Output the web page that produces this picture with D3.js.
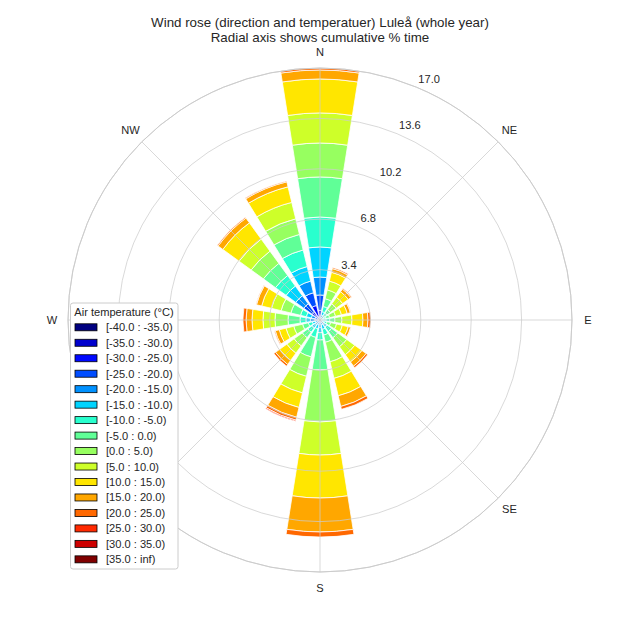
<!DOCTYPE html>
<html><head><meta charset="utf-8">
<script src="https://cdn.jsdelivr.net/npm/d3@7"></script>
<style>body{margin:0;background:#fff;} svg{display:block;font-family:"Liberation Sans",Arial,sans-serif;}</style>
</head><body><svg id="c" width="640" height="640"></svg>
<script>
const directions = ["N","NNE","NE","ENE","E","ESE","SE","SSE","S","SSW","SW","WSW","W","WNW","NW","NNW"];
// SW label is hidden behind the legend in the reference
const angleLabels = ["N","NE","E","SE","S","","W","NW"];
const binLabels = ["[-40.0 : -35.0)","[-35.0 : -30.0)","[-30.0 : -25.0)","[-25.0 : -20.0)","[-20.0 : -15.0)","[-15.0 : -10.0)","[-10.0 : -5.0)","[-5.0 : 0.0)","[0.0 : 5.0)","[5.0 : 10.0)","[10.0 : 15.0)","[15.0 : 20.0)","[20.0 : 25.0)","[25.0 : 30.0)","[30.0 : 35.0)","[35.0 : inf)"];
const radialTicks = [3.4, 6.8, 10.2, 13.6, 17.0];
const rMax = 17.0;
const titleLines = ["Wind rose (direction and temperatuer) Luleå (whole year)", "Radial axis shows cumulative % time"];
const legendTitle = "Air temperature (°C)";

// % of time in each temperature bin, one array per wind direction
const fN   = [0.05,0.15,0.45,1.04,1.21,2.03,2.02,2.70,2.29,2.03,2.29,0.61,0.13,0,0,0];
const fNNE = [0,0.02,0.05,0.10,0.17,0.24,0.36,0.54,0.61,0.61,0.61,0.26,0.08,0,0,0];
const fNE  = [0,0.01,0.03,0.06,0.10,0.15,0.22,0.30,0.48,0.54,0.47,0.22,0.07,0,0,0];
const fENE = [0,0.01,0.03,0.05,0.08,0.10,0.15,0.25,0.41,0.41,0.40,0.22,0.04,0,0,0];
const fE   = [0,0.01,0.04,0.08,0.12,0.16,0.25,0.35,0.47,0.68,0.74,0.34,0.20,0,0,0];
const fESE = [0,0.01,0.03,0.05,0.08,0.12,0.20,0.25,0.41,0.40,0.41,0.17,0.03,0,0,0];
const fSE  = [0,0.02,0.05,0.10,0.16,0.25,0.38,0.52,0.75,0.67,0.60,0.35,0.13,0,0,0];
const fSSE = [0,0.02,0.05,0.10,0.18,0.30,0.40,0.50,1.35,1.15,1.21,0.74,0.20,0,0,0];
const fS   = [0,0.02,0.08,0.15,0.25,0.35,0.50,2.02,3.51,2.23,2.90,2.29,0.34,0,0,0];
const fSSW = [0,0.01,0.05,0.10,0.15,0.30,0.60,1.35,1.35,1.15,1.01,0.68,0.20,0.07,0,0];
const fSW  = [0,0.02,0.06,0.12,0.20,0.26,0.36,0.46,0.68,0.61,0.60,0.34,0.14,0,0,0];
const fWSW = [0,0.02,0.06,0.10,0.15,0.20,0.28,0.40,0.61,0.54,0.47,0.28,0.06,0,0,0];
const fW   = [0.01,0.04,0.10,0.20,0.30,0.30,0.40,0.81,0.88,0.81,0.74,0.40,0.21,0,0,0];
const fWNW = [0.02,0.05,0.10,0.18,0.25,0.35,0.40,0.67,0.68,0.67,0.68,0.36,0.04,0,0,0];
const fNW  = [0.03,0.12,0.50,0.70,0.67,0.81,0.88,1.01,1.02,1.01,1.35,0.40,0.07,0,0,0];
const fNNW = [0.05,0.20,0.76,0.88,0.81,1.01,1.15,1.08,1.08,1.14,1.08,0.35,0.06,0,0,0];
const table = [fN,fNNE,fNE,fENE,fE,fESE,fSE,fSSE,fS,fSSW,fSW,fWSW,fW,fWNW,fNW,fNNW];

function jet(x){
  const seg = pts => { for(let i=0;i<pts.length-1;i++){ const [x0,y0]=pts[i],[x1,y1]=pts[i+1]; if(x>=x0&&x<=x1) return y0+(y1-y0)*(x-x0)/(x1-x0);} return pts[pts.length-1][1]; };
  const r = seg([[0,0],[0.35,0],[0.66,1],[0.89,1],[1,0.5]]);
  const g = seg([[0,0],[0.125,0],[0.375,1],[0.64,1],[0.91,0],[1,0]]);
  const b = seg([[0,0.5],[0.11,1],[0.34,1],[0.65,0],[1,0]]);
  return d3.rgb(Math.round(r*255),Math.round(g*255),Math.round(b*255)).formatHex();
}
const colors = binLabels.map((d,i)=>jet(i/(binLabels.length-1)));

const svg = d3.select("#c");
const cx = 320, cy = 320, R = 252;
const r = d3.scaleLinear().domain([0, rMax]).range([0, R]);
const ang = d3.scaleLinear().domain([0, directions.length]).range([0, 2*Math.PI]);
const half = (2*Math.PI/directions.length)*0.8/2;
const g = svg.append("g").attr("transform",`translate(${cx},${cy})`);
const textCol = "#262626", gridCol = "#cccccc";

// title
svg.append("text").attr("x",320).attr("y",27).attr("text-anchor","middle").attr("font-size","13.33px").attr("fill",textCol).text(titleLines[0]);
svg.append("text").attr("x",320).attr("y",42).attr("text-anchor","middle").attr("font-size","13.33px").attr("fill",textCol).text(titleLines[1]);

// bars
const arc = d3.arc();
table.forEach((vals,di)=>{
  let cum = 0;
  const a = ang(di);
  vals.forEach((v,bi)=>{
    if(v<=0) return;
    g.append("path").attr("d", arc({innerRadius:r(cum), outerRadius:r(cum+v), startAngle:a-half, endAngle:a+half}))
     .attr("fill", colors[bi]).attr("stroke","#fff").attr("stroke-width",0.8);
    cum += v;
  });
});

// grid on top
const grid = g.append("g").attr("stroke",gridCol).attr("fill","none").attr("stroke-width",1).attr("stroke-opacity",0.75);
radialTicks.forEach(t=> grid.append("circle").attr("r", r(t)));
angleLabels.forEach((l,i)=>{
  const a = i*Math.PI/4;
  grid.append("line").attr("x1",0).attr("y1",0).attr("x2",R*Math.sin(a)).attr("y2",-R*Math.cos(a));
});
g.append("circle").attr("r",R).attr("fill","none").attr("stroke",gridCol).attr("stroke-width",1);

// angle labels
angleLabels.forEach((l,i)=>{
  if(!l) return;
  const a = i*Math.PI/4, rl = 268;
  g.append("text").attr("x",rl*Math.sin(a)).attr("y",-rl*Math.cos(a)).attr("dy","0.35em").attr("text-anchor","middle")
   .attr("font-size","11.1px").attr("fill",textCol).text(l);
});
// radial tick labels
const ta = 22.5*Math.PI/180;
radialTicks.forEach(t=>{
  const rr = r(t)+5;
  g.append("text").attr("x",rr*Math.sin(ta)).attr("y",-rr*Math.cos(ta)).attr("font-size","11.1px").attr("fill",textCol).text(t.toFixed(1));
});

// legend
const lg = svg.append("g");
lg.append("rect").attr("x",70.5).attr("y",303).attr("width",107.5).attr("height",266).attr("rx",2.5)
  .attr("fill","#fff").attr("stroke","#cccccc").attr("stroke-width",1);
lg.append("text").attr("x",124).attr("y",315.5).attr("text-anchor","middle").attr("font-size","11.1px").attr("fill",textCol).text(legendTitle);
binLabels.forEach((l,i)=>{
  const yc = 327.3 + i*15.47;
  lg.append("rect").attr("x",75).attr("y",yc-3.5).attr("width",22).attr("height",7).attr("fill",colors[i]).attr("stroke","#000").attr("stroke-width",0.8);
  lg.append("text").attr("x",106).attr("y",yc).attr("dy","0.36em").attr("font-size","11.1px").attr("fill",textCol).text(l);
});
</script></body></html>
